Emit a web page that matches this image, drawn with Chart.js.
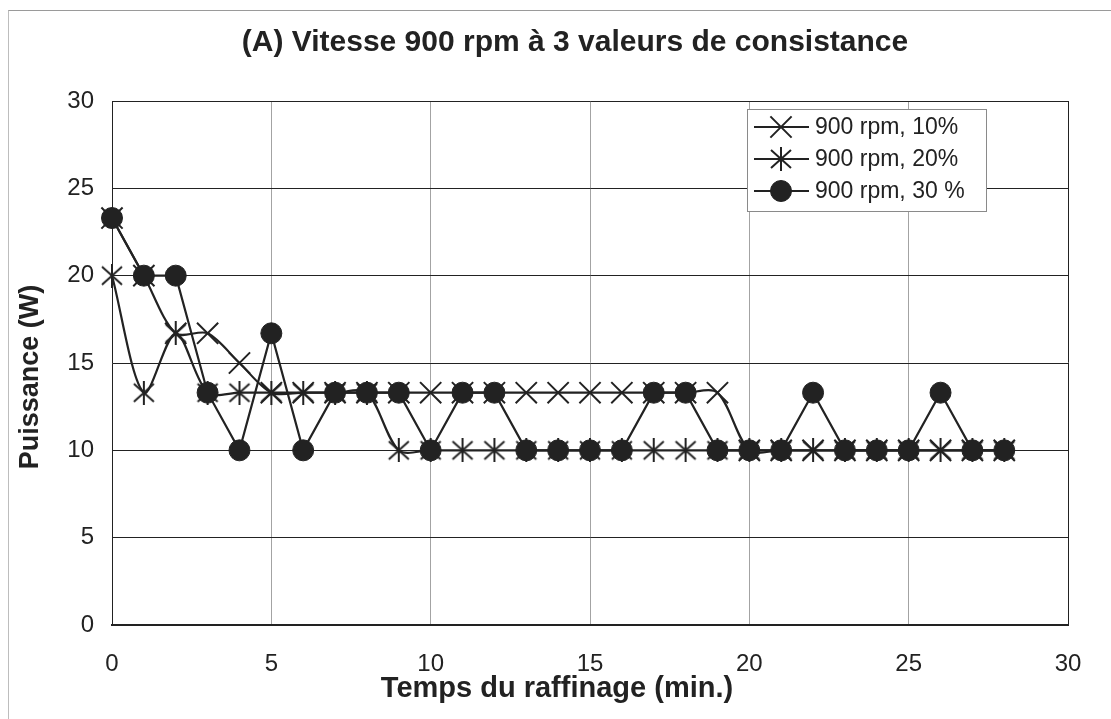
<!DOCTYPE html>
<html>
<head>
<meta charset="utf-8">
<title>Vitesse 900 rpm</title>
<script src="https://cdn.jsdelivr.net/npm/chart.js@4.4.0/dist/chart.umd.min.js"></script>
<style>
html,body{margin:0;padding:0;background:#fff;}
#wrap{position:relative;width:1111px;height:719px;overflow:hidden;}
#cadre{position:absolute;left:8px;top:10px;right:-2px;bottom:-2px;border-left:1px solid #bdbdbd;border-top:1px solid #9a9a9a;}
#chartPuissance{position:absolute;left:0;top:0;}
</style>
</head>
<body>
<div id="wrap">
	<div id="cadre"></div>
	<canvas id="chartPuissance" width="1111" height="719"></canvas>
</div>
<script>
// temps (min.) et puissance (W) pour chaque consistance
var minutes=[0,1,2,3,4,5,6,7,8,9,10,11,12,13,14,15,16,17,18,19,20,21,22,23,24,25,26,27,28];
var puissance10=[23.3,20,16.7,16.7,15,13.3,13.3,13.3,13.3,13.3,13.3,13.3,13.3,13.3,13.3,13.3,13.3,13.3,13.3,13.3,10,10,10,10,10,10,10,10,10];
var puissance20=[20,13.3,16.7,13.3,13.3,13.3,13.3,13.3,13.3,10,10,10,10,10,10,10,10,10,10,10,10,10,10,10,10,10,10,10,10];
var puissance30=[23.3,20,20,13.3,10,16.7,10,13.3,13.3,13.3,10,13.3,13.3,10,10,10,10,13.3,13.3,10,10,10,13.3,10,10,10,13.3,10,10];
var ticksX=[0,5,10,15,20,25,30];
var ticksY=[0,5,10,15,20,25,30];

var titre='(A) Vitesse 900 rpm à 3 valeurs de consistance';
var titreX='Temps du raffinage (min.)';
var titreY='Puissance (W)';

var NOIR='#222';
var POLICE="'Liberation Sans', Arial, sans-serif";

// asterisque a 6 branches (marqueur de la serie 20%)
function creerAsterisque(){
	var c=document.createElement('canvas');
	c.width=24;c.height=24;
	var g=c.getContext('2d');
	g.strokeStyle=NOIR;g.lineWidth=2;
	g.beginPath();
	g.moveTo(2,3);g.lineTo(22,21);
	g.moveTo(22,3);g.lineTo(2,21);
	g.moveTo(12,0);g.lineTo(12,24);
	g.stroke();
	return c;
}
var asterisque=creerAsterisque();

function points(valeurs){
	return minutes.map(function(m,i){return {x:m,y:valeurs[i]};});
}

// titre general et titres des axes, places comme dans Excel
var titres={
	id:'titres',
	afterDraw:function(chart){
		var ctx=chart.ctx;
		ctx.save();
		ctx.fillStyle=NOIR;
		ctx.textAlign='center';
		ctx.textBaseline='middle';
		ctx.font='bold 30px '+POLICE;
		ctx.fillText(titre,575,43);
		ctx.font='bold 29px '+POLICE;
		ctx.fillText(titreX,557,689);
		ctx.translate(31,377);
		ctx.rotate(-Math.PI/2);
		ctx.font='bold 27px '+POLICE;
		ctx.fillText(titreY,0,0);
		ctx.restore();
	}
};

// cadre de legende dans la zone du graphique
var legendeBoite={
	id:'legendeBoite',
	afterDraw:function(chart){
		var ctx=chart.ctx;
		var x0=747,y0=109,w=239,h=102;
		ctx.save();
		ctx.fillStyle='#fff';
		ctx.fillRect(x0,y0,w,h);
		ctx.strokeStyle='#8a8a8a';
		ctx.lineWidth=1;
		ctx.strokeRect(x0+0.5,y0+0.5,w,h);
		chart.data.datasets.forEach(function(ds,i){
			var y=y0+18+i*32;
			ctx.strokeStyle=NOIR;
			ctx.lineWidth=2;
			ctx.beginPath();
			ctx.moveTo(x0+7,y);
			ctx.lineTo(x0+62,y);
			ctx.stroke();
			ctx.fillStyle=ds.pointBackgroundColor;
			ctx.strokeStyle=ds.pointBorderColor;
			ctx.lineWidth=ds.pointBorderWidth;
			Chart.helpers.drawPoint(ctx,{pointStyle:ds.pointStyle,radius:ds.pointRadius,borderWidth:ds.pointBorderWidth,rotation:0},x0+34,y);
			ctx.fillStyle=NOIR;
			ctx.font='23px '+POLICE;
			ctx.textAlign='left';
			ctx.textBaseline='middle';
			ctx.fillText(ds.label,x0+68,y+1);
		});
		ctx.restore();
	}
};

var chartPuissance=new Chart(document.getElementById('chartPuissance'),{
	type:'line',
	data:{
		datasets:[
			{
				label:'900 rpm, 10%',
				data:points(puissance10),
				borderColor:NOIR,borderWidth:2.2,tension:0.3,
				pointStyle:'crossRot',pointRadius:15,pointBorderWidth:2,
				pointBorderColor:NOIR,pointBackgroundColor:NOIR,
				clip:false,order:3
			},
			{
				label:'900 rpm, 20%',
				data:points(puissance20),
				borderColor:NOIR,borderWidth:2.2,tension:0.3,
				pointStyle:asterisque,pointRadius:12,pointBorderWidth:2,
				pointBorderColor:NOIR,pointBackgroundColor:NOIR,
				clip:false,order:2
			},
			{
				label:'900 rpm, 30 %',
				data:points(puissance30),
				borderColor:NOIR,borderWidth:2.2,tension:0,
				pointStyle:'circle',pointRadius:10.5,pointBorderWidth:1,
				pointBorderColor:NOIR,pointBackgroundColor:NOIR,
				clip:false,order:1
			}
		]
	},
	options:{
		responsive:false,
		animation:false,
		events:[],
		layout:{padding:{left:0,right:43,top:101,bottom:0}},
		plugins:{
			legend:{display:false},
			tooltip:{enabled:false},
			title:{display:false}
		},
		scales:{
			x:{
				type:'linear',
				min:0,max:30,
				afterBuildTicks:function(scale){scale.ticks=ticksX.map(function(v){return {value:v};});},
				afterFit:function(scale){scale.height=94;},
				ticks:{color:NOIR,padding:25,font:{family:POLICE,size:24}},
				grid:{
					drawTicks:false,
					color:function(c){return c.tick&&c.tick.value===30?NOIR:'#a3a3a3';},
					lineWidth:1
				},
				border:{display:true,color:NOIR,width:2}
			},
			y:{
				min:0,max:30,
				afterBuildTicks:function(scale){scale.ticks=ticksY.map(function(v){return {value:v};});},
				afterFit:function(scale){scale.width=112;},
				ticks:{color:NOIR,padding:18,font:{family:POLICE,size:24}},
				grid:{drawTicks:false,color:NOIR,lineWidth:1},
				border:{display:true,color:NOIR,width:1}
			}
		}
	},
	plugins:[titres,legendeBoite]
});
</script>
</body>
</html>
